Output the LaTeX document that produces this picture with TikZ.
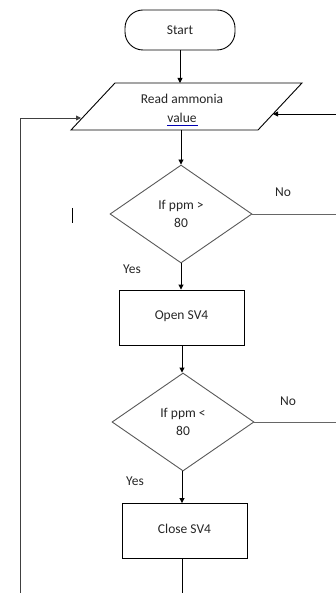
\documentclass[tikz,border=0pt]{standalone}
\usepackage{fontspec}
\setmainfont{Carlito}
\usetikzlibrary{shapes.geometric,arrows.meta}
\begin{document}
\begin{tikzpicture}[x=1pt,y=-1pt,
  every node/.style={font=\fontsize{13.5}{19}\selectfont, text=black!85},
  line/.style={line width=0.9pt, black},
  gline/.style={line width=0.9pt, black!60},
  arr/.style={line/.try, -{Triangle[length=5pt,width=5pt]}},
  term/.style={draw, line width=0.9pt, rectangle, rounded corners=18pt, minimum width=110pt, minimum height=40pt, inner sep=0pt},
  proc/.style={draw, line width=0.9pt, rectangle, minimum width=125pt, minimum height=55pt, inner sep=0pt},
  dec/.style={draw=black!65, line width=0.9pt, diamond, minimum width=142pt, minimum height=98pt, inner sep=0pt, align=center},
  lbl/.style={inner sep=0pt}]
\useasboundingbox (0,0) rectangle (336,593);

% Start
\node[term] (start) at (180,30) {Start};

% Read ammonia value (parallelogram)
\coordinate (ptl) at (115,83);
\coordinate (ptr) at (302,83);
\coordinate (pbr) at (258,130);
\coordinate (pbl) at (71,130);
\draw[line] (ptl) -- (ptr) -- (pbr) -- (pbl) -- cycle;
\node[align=center, inner sep=0pt] (read) at (182,108.5) {Read ammonia\\value};
\coordinate (ula) at (167,125.5);
\coordinate (ulb) at (198,125.5);
\draw[blue!70!black, line width=0.7pt] (ula) -- (ulb);
\coordinate (readtop) at (180,83);
\coordinate (readbot) at (181,130);
\coordinate (readleft) at (81,118);
\coordinate (readright) at (273,114);

% Decision 1
\node[dec] (dia1) at (181,214) {If ppm >\\[-1pt]80};
% Open SV4
\node[proc] (open) at (181.5,317.5) {\raisebox{5pt}{Open SV4}};
% Decision 2
\node[dec] (dia2) at (183,422) {If ppm <\\[-1pt]80};
% Close SV4
\node[proc] (close) at (184.5,531) {\raisebox{4pt}{Close SV4}};

% Labels
\node[lbl] (no1) at (283,192) {No};
\node[lbl] (yes1) at (132,269) {Yes};
\node[lbl] (no2) at (288,401) {No};
\node[lbl] (yes2) at (135,481) {Yes};

% Free ends
\coordinate (endbot) at (182,593);
\coordinate (loopbot) at (20,593);
\coordinate (loopcorner) at (20,118);
\coordinate (rightin) at (336,114);
\coordinate (no1end) at (336,214);
\coordinate (no2end) at (336,422);

% Connectors
\draw[arr] (start.south) -- (readtop);
\draw[arr] (readbot) -- (dia1.north);
\draw[arr] (dia1.south) -- (open.north -| dia1.south);
\draw[arr] (open.south -| 182,0) -- (dia2.north -| 182,0);
\draw[arr] (dia2.south -| 182,0) -- (close.north -| 182,0);
\draw[line] (close.south -| 182,0) -- (endbot);
\draw[arr, black!75] (loopbot) -- (loopcorner) -- (readleft);
\draw[arr] (rightin) -- (readright);
\draw[gline] (dia1.east) -- (no1end);
\draw[gline] (dia2.east) -- (no2end);

% stray cursor mark
\coordinate (cura) at (72,208);
\coordinate (curb) at (72,223);
\draw[line width=1pt] (cura) -- (curb);
\end{tikzpicture}
\end{document}
